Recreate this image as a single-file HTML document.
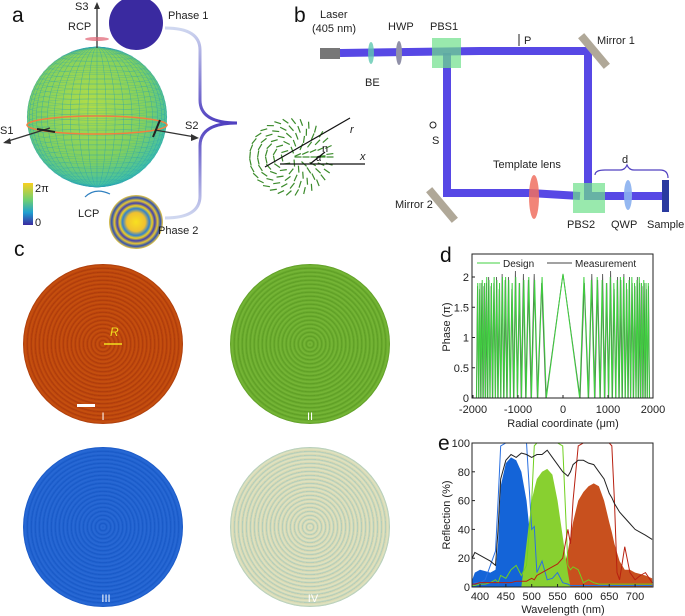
<!DOCTYPE html>
<html><head><meta charset="utf-8">
<style>
body{margin:0;background:#fff;width:685px;height:616px;overflow:hidden;position:relative;font-family:"Liberation Sans",sans-serif}
svg{position:absolute;left:0;top:0}
.pl{font-size:21px;fill:#111}
.t{font-size:11px;fill:#222}
.disc{position:absolute;border-radius:50%}
</style></head><body>
<div class="disc" style="left:23px;top:264px;width:160px;height:160px;background:repeating-radial-gradient(circle at 50% 50%,#b8400c 0,#c8520f 2px,#a8380a 4px),#b8440c"></div>
<div class="disc" style="left:230px;top:264px;width:160px;height:160px;background:repeating-radial-gradient(circle at 50% 50%,#62a428 0,#78b838 2px,#5a9a22 4px)"></div>
<div class="disc" style="left:23px;top:447px;width:160px;height:160px;background:repeating-radial-gradient(circle at 50% 50%,#1c5fcc 0,#2a6ad6 2px,#1656c4 4px)"></div>
<div class="disc" style="left:230px;top:447px;width:160px;height:160px;background:repeating-radial-gradient(circle at 50% 50%,#d0d4b0 0,#e4e4c0 2px,#a8c8b8 4px)"></div>
<svg id="s" width="685" height="616" xmlns="http://www.w3.org/2000/svg">
<defs>
<radialGradient id="sph" cx="45%" cy="40%" r="60%"><stop offset="0" stop-color="#b0dc48"/><stop offset="0.7" stop-color="#80d060"/><stop offset="1" stop-color="#40c0a8"/></radialGradient>
<radialGradient id="ph2" cx="50%" cy="50%" r="50%"><stop offset="0" stop-color="#f8e020"/><stop offset="0.35" stop-color="#f0c030"/><stop offset="0.5" stop-color="#3080d0"/><stop offset="0.6" stop-color="#f0d020"/><stop offset="0.7" stop-color="#4040b0"/><stop offset="0.8" stop-color="#e8c830"/><stop offset="0.9" stop-color="#3050b0"/><stop offset="1" stop-color="#f0d040"/></radialGradient>
<linearGradient id="cb" x1="0" y1="1" x2="0" y2="0"><stop offset="0" stop-color="#3a2aa0"/><stop offset="0.3" stop-color="#20a0d0"/><stop offset="0.6" stop-color="#70d070"/><stop offset="1" stop-color="#f8d020"/></linearGradient>
<linearGradient id="br" x1="0" y1="0" x2="0" y2="1"><stop offset="0" stop-color="#d0d8f0"/><stop offset="0.5" stop-color="#5040c0"/><stop offset="1" stop-color="#d0d8f0"/></linearGradient>
</defs>
<!-- panel a -->
<text class="pl" x="12" y="22">a</text>
<g id="sphere">
<circle cx="97" cy="117" r="70" fill="url(#sph)"/>
</g>
<ellipse cx="97" cy="125" rx="70" ry="9" fill="none" stroke="#f08040" stroke-width="1.5"/>
<line x1="97" y1="48" x2="97" y2="5" stroke="#333" stroke-width="1.3"/>
<polygon points="97,2 94,9 100,9" fill="#333"/>
<text class="t" x="75" y="10">S3</text>
<text class="t" x="68" y="30">RCP</text>
<ellipse cx="97" cy="39" rx="12" ry="2" fill="#e06070" opacity="0.7"/>
<line x1="50" y1="128" x2="5" y2="142" stroke="#333" stroke-width="1.3"/>
<polygon points="3,143 10,138 11,144" fill="#333"/>
<text class="t" x="0" y="134">S1</text>
<line x1="155" y1="130" x2="195" y2="137" stroke="#333" stroke-width="1.3"/>
<polygon points="199,138 191,134 191,141" fill="#333"/>
<text class="t" x="185" y="129">S2</text>
<line x1="37" y1="129" x2="55" y2="132" stroke="#222" stroke-width="2"/>
<line x1="153" y1="137" x2="160" y2="120" stroke="#222" stroke-width="2"/>
<circle cx="136" cy="23" r="27" fill="#3a2aa0"/>
<text class="t" x="168" y="19">Phase 1</text>
<circle cx="136" cy="222" r="27" fill="url(#ph2)"/>
<text class="t" x="158" y="234">Phase 2</text>
<path d="M165,28 Q200,28 200,50 L200,100 Q200,123 237,123 Q200,123 200,146 L200,196 Q200,218 165,218" fill="none" stroke="url(#br)" stroke-width="3"/>
<rect x="23" y="183" width="10" height="42" fill="url(#cb)"/>
<text class="t" x="35" y="192">2π</text><text class="t" x="35" y="226">0</text>
<text class="t" x="78" y="217">LCP</text>
<path d="M85,197 q10,-10 25,-3" fill="none" stroke="#3080c0" stroke-width="1.2"/>
<g id="dirs" stroke="#3a8a2a" stroke-width="1.2"></g>
<line x1="265" y1="167" x2="350" y2="118" stroke="#111" stroke-width="1.2"/><text class="t" x="350" y="133" font-style="italic">r</text>
<line x1="280" y1="164" x2="365" y2="164" stroke="#111" stroke-width="1.2"/><text class="t" x="360" y="160" font-style="italic">x</text>
<line x1="310" y1="164" x2="325" y2="152" stroke="#111" stroke-width="1.2"/><text class="t" x="322" y="152" font-size="9">n</text><text x="316" y="161" font-size="9">α</text>
<!-- panel b -->
<text class="pl" x="294" y="22">b</text>
<g>
<rect x="320" y="48" width="20" height="11" fill="#777"/>
<path d="M340,53 L480,51 L588,51 L588,196 L667,196" fill="none" stroke="#3a28e0" stroke-width="8" opacity="0.85"/>
<path d="M447,53 L447,193 L530,193 L580,196" fill="none" stroke="#3a28e0" stroke-width="8" opacity="0.85"/>
<ellipse cx="371" cy="53" rx="3" ry="11" fill="#60c8b0" opacity="0.8"/>
<ellipse cx="399" cy="53" rx="3" ry="12" fill="#9090a8"/>
<rect x="432" y="38" width="29" height="30" fill="#6ee08a" opacity="0.7"/>
<rect x="573" y="183" width="32" height="30" fill="#6ee08a" opacity="0.7"/>
<rect x="590" y="31" width="8" height="40" fill="#b0a898" transform="rotate(-40 594 51)"/>
<rect x="438" y="185" width="8" height="40" fill="#b0a898" transform="rotate(-40 442 205)"/>
<ellipse cx="534" cy="197" rx="5" ry="22" fill="#f07060" opacity="0.85"/>
<ellipse cx="628" cy="195" rx="4" ry="15" fill="#8ab0f0" opacity="0.9"/>
<rect x="662" y="180" width="7" height="32" fill="#2a3aa0"/>
<path d="M595,175 q0,-5 10,-5 L620,170 q5,0 7,-5 q2,5 7,5 L660,170 q8,0 8,8" fill="none" stroke="#5040c0" stroke-width="1.2"/>
</g>
<text class="t" x="320" y="18">Laser</text><text class="t" x="312" y="32">(405 nm)</text>
<text class="t" x="365" y="86">BE</text><text class="t" x="388" y="30">HWP</text><text class="t" x="430" y="30">PBS1</text>
<text class="t" x="524" y="44">P</text><line x1="519" y1="34" x2="519" y2="46" stroke="#222"/>
<text class="t" x="597" y="44">Mirror 1</text>
<text class="t" x="432" y="144">S</text><circle cx="433" cy="125" r="3" fill="none" stroke="#222"/>
<text class="t" x="493" y="168">Template lens</text><text class="t" x="622" y="163">d</text>
<text class="t" x="395" y="208">Mirror 2</text>
<text class="t" x="567" y="228">PBS2</text><text class="t" x="611" y="228">QWP</text><text class="t" x="647" y="228">Sample</text>
<!-- panel c -->
<text class="pl" x="14" y="256">c</text>
<text x="110" y="336" font-size="12" font-style="italic" fill="#f0e020">R</text>
<line x1="104" y1="344" x2="122" y2="344" stroke="#f0e020" stroke-width="1.5"/>
<rect x="77" y="404" width="18" height="3" fill="#fff"/>
<text x="103" y="420" font-size="11" fill="#fff" text-anchor="middle">I</text>
<text x="310" y="420" font-size="11" fill="#fff" text-anchor="middle">II</text>
<text x="106" y="602" font-size="11" fill="#fff" text-anchor="middle">III</text>
<text x="313" y="602" font-size="11" fill="#fff" text-anchor="middle">IV</text>
<!-- panel d -->
<text class="pl" x="440" y="262">d</text>
<g id="chartD"></g>
<!-- panel e -->
<text class="pl" x="438" y="450">e</text>
<g id="chartE"></g>
</svg>
<script>
// ----- panel d data -----
const dZerosPos=[370,560,700,820,920,1010,1090,1170,1240,1310,1380,1440,1500,1560,1620,1670,1720,1770,1820,1870,1920];
const dPeak=[2,1.95,2,1.95,1.9,2,1.9,1.95,2,2,1.9,1.95,2,1.9,1.95,2,1.9,1.95,1.9,1.9];
const measZerosPos=[380,570,710,830,930,1015,1100,1175,1250,1320,1385,1450,1505,1570,1625,1680,1730,1780,1830,1875,1925];
const measPeak=[1.9,2.05,1.95,2.05,1.9,2.1,1.8,2.0,1.95,2.05,1.8,2.0,1.9,1.85,2.0,1.9,1.85,1.9,1.8,1.85];
const dXTicks=[-2000,-1000,0,1000,2000];
const dYTicks=[0,0.5,1,1.5,2];
// ----- panel e data -----
const eWl=[385,390,400,410,420,430,435,440,450,460,470,480,490,500,505,510,520,530,540,550,560,570,575,580,590,600,610,620,630,640,650,655,660,665,670,680,690,700,710,720,733];
const blueFill=[5,10,12,11,10,12,30,70,86,90,88,80,60,25,5,0,0,0,0,0,0,0,0,0,0,0,0,0,0,0,0,0,0,0,0,0,0,0,0,0,0];
const greenFill=[0,0,0,0,0,0,0,0,0,0,0,0,30,60,68,75,80,82,78,60,35,10,0,0,0,0,0,0,0,0,0,0,0,0,0,0,0,0,0,0,0];
const redFill=[2,3,4,4,4,4,4,4,4,4,4,4,4,4,4,4,4,4,4,5,10,25,35,45,60,66,70,72,70,60,45,38,30,24,18,12,12,10,9,8,6];
const blackLine=[20,24,22,20,18,15,40,75,88,92,90,93,92,90,91,92,92,95,90,85,80,77,80,85,88,88,86,85,80,75,65,62,58,55,52,48,44,40,38,36,33];
const blueBox=[1,3,3,5,15,25,60,98,100,100,100,100,100,40,42,10,18,5,6,10,3,2,1,1,1,1,1,1,1,1,1,1,1,1,1,1,1,1,1,1,1];
const greenBox=[1,1,2,2,3,5,3,8,6,12,15,8,15,60,98,100,100,100,100,100,98,15,12,14,12,3,5,3,2,2,2,2,2,2,2,2,2,2,2,2,2];
const redBox=[2,2,3,3,3,3,3,3,3,3,4,4,4,6,5,8,10,12,14,16,20,40,30,60,98,100,100,100,100,100,100,98,60,10,5,28,10,5,8,10,3];
const eXTicks=[400,450,500,550,600,650,700];
const eYTicks=[0,20,40,60,80,100];

const NS='http://www.w3.org/2000/svg';
function mk(tag,attrs,parent){const e=document.createElementNS(NS,tag);for(const k in attrs)e.setAttribute(k,attrs[k]);parent.appendChild(e);return e;}

(function(){
 const g=document.getElementById('sphere');
 for(let i=1;i<28;i++){const y=117-70+i*5;const rx=Math.sqrt(Math.max(0,70*70-(y-117)**2));mk('ellipse',{cx:97,cy:y,rx:rx,ry:rx*0.12,fill:'none',stroke:'#2aa0b0','stroke-width':0.35,opacity:0.6},g);}
 for(let i=1;i<24;i++){mk('ellipse',{cx:97,cy:117,rx:70*Math.abs(Math.cos(i*Math.PI/24)),ry:70,fill:'none',stroke:'#2aa0b0','stroke-width':0.35,opacity:0.6},g);}
 const d=document.getElementById('dirs');
 for(let r=8;r<=42;r+=8){for(let a=0;a<6.28;a+=8/r){const x=290+r*Math.cos(a),y=157+r*Math.sin(a)*0.9;const o=a*1.5;mk('line',{x1:x-3.5*Math.cos(o),y1:y-3.5*Math.sin(o),x2:x+3.5*Math.cos(o),y2:y+3.5*Math.sin(o)},d);}}
})();

// chart d
(function(){
 const g=document.getElementById('chartD');
 const L=472,R=653,T=254,B=398;
 const sx=v=>563+v*(90/2000), sy=v=>398-v*60.5;
 function tri(zeros,peaks,col,w){
  let pts=[[0,2.05]];
  for(let i=0;i<zeros.length;i++){pts.push([zeros[i],0]);if(i<peaks.length)pts.push([(zeros[i]+zeros[i+1])/2,peaks[i]]);}
  const right=pts.map(p=>sx(p[0])+','+sy(p[1]));
  const left=pts.slice().reverse().map(p=>sx(-p[0])+','+sy(p[1]));
  return mk('polyline',{points:left.concat(right).join(' '),fill:'none',stroke:col,'stroke-width':w},g);
 }
 const p2=tri(measZerosPos,measPeak,'#555',0.9);
 
 
 const p1=tri(dZerosPos,dPeak,'#40d040',1);
 
 
 const fr=mk('rect',{x:L,y:T,width:R-L,height:B-T,fill:'none',stroke:'#222','stroke-width':1},g);
 
 
 dXTicks.forEach(v=>{mk('line',{x1:sx(v),x2:sx(v),y1:B,y2:B-3,stroke:'#222'},g);const t=mk('text',{x:sx(v),y:413,'text-anchor':'middle','font-size':11,fill:'#222'},g);t.textContent=v;
  
  });
 dYTicks.forEach(v=>{mk('line',{x1:L,x2:L+3,y1:sy(v),y2:sy(v),stroke:'#222'},g);const t=mk('text',{x:L-3,y:sy(v)+4,'text-anchor':'end','font-size':11,fill:'#222'},g);t.textContent=v;
  
  });
 const xt=mk('text',{x:563,y:427,'text-anchor':'middle','font-size':11,fill:'#222'},g);xt.textContent='Radial coordinate (μm)';
 
 
 const yt=mk('text',{x:450,y:327,'text-anchor':'middle','font-size':11,fill:'#222',transform:'rotate(-90 450 327)'},g);yt.textContent='Phase (π)';
 
 
 mk('rect',{x:474,y:256,width:177,height:12,fill:'#fff'},g);
 mk('line',{x1:477,x2:500,y1:263,y2:263,stroke:'#40d040'},g);
 const l1=mk('text',{x:503,y:267,'font-size':10,fill:'#222'},g);l1.textContent='Design';
 
 
 mk('line',{x1:547,x2:572,y1:263,y2:263,stroke:'#444'},g);
 const l2=mk('text',{x:575,y:267,'font-size':10,fill:'#222'},g);l2.textContent='Measurement';
 
 
})();

// chart e
(function(){
 const g=document.getElementById('chartE');
 const L=472,R=653,T=443,B=587;
 const sx=v=>480+(v-400)*0.517, sy=v=>587-v*1.44;
 function path(vals){return eWl.map((w,i)=>sx(w)+','+sy(vals[i])).join(' ');}
 function area(vals,col,name){const p=mk('polygon',{points:sx(eWl[0])+','+sy(0)+' '+path(vals)+' '+sx(eWl[eWl.length-1])+','+sy(0),fill:col},g);
  
  }
 function line(vals,col,name,w){const p=mk('polyline',{points:path(vals),fill:'none',stroke:col,'stroke-width':w},g);
  
  }
 area(redFill,'#c8501e','red-measured-area');
 area(blueFill,'#1464d8','blue-measured-area');
 area(greenFill,'#88d030','green-measured-area');
 line(blueBox,'#2a70e0','blue-design-line',1);
 line(greenBox,'#70d020','green-design-line',1);
 line(redBox,'#b82010','red-design-line',1);
 line(blackLine,'#222','unpolarized-line',1);
 const fr=mk('rect',{x:L,y:T,width:R-L,height:B-T,fill:'none',stroke:'#222'},g);
 
 
 eXTicks.forEach(v=>{mk('line',{x1:sx(v),x2:sx(v),y1:B,y2:B-3,stroke:'#222'},g);const t=mk('text',{x:sx(v),y:B+13,'text-anchor':'middle','font-size':11,fill:'#222'},g);t.textContent=v;
  
  });
 eYTicks.forEach(v=>{mk('line',{x1:L,x2:L+3,y1:sy(v),y2:sy(v),stroke:'#222'},g);const t=mk('text',{x:L-2,y:sy(v)+4,'text-anchor':'end','font-size':11,fill:'#222'},g);t.textContent=v;
  
  });
 const xt=mk('text',{x:563,y:613,'text-anchor':'middle','font-size':11,fill:'#222'},g);xt.textContent='Wavelength (nm)';
 
 
 const yt=mk('text',{x:450,y:515,'text-anchor':'middle','font-size':11,fill:'#222',transform:'rotate(-90 450 515)'},g);yt.textContent='Reflection (%)';
 
 
})();
</script>
</body></html>
